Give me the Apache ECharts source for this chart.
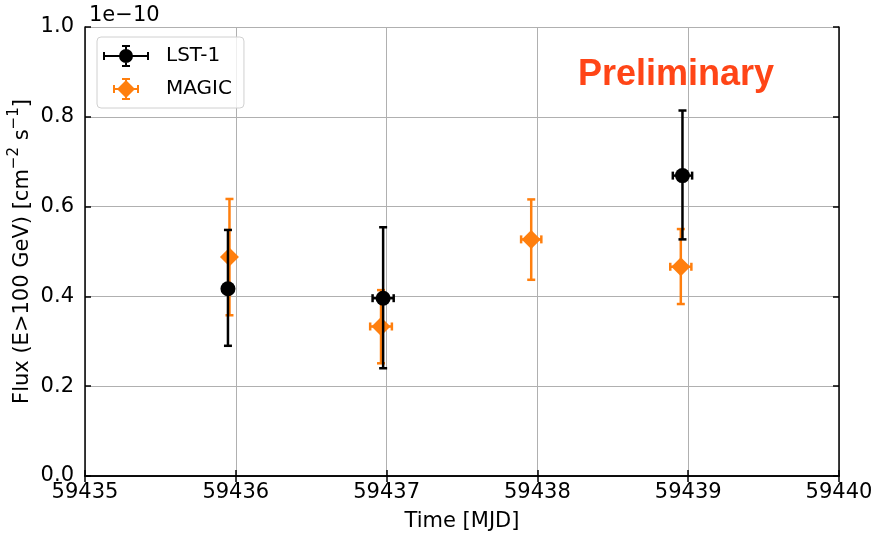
<!DOCTYPE html>
<html>
<head>
<meta charset="utf-8">
<script src="https://cdn.jsdelivr.net/npm/echarts@6/dist/echarts.min.js"></script>
<style>
  html, body { margin: 0; padding: 0; background: #fff; }
  #main { width: 875px; height: 539px; }
</style>
</head>
<body>
<div id="main"></div>
<script>
// flux values in units of 1e-10 cm^-2 s^-1
const lstX = [59435.948, 59436.977, 59438.962]
const lstY = [0.417, 0.396, 0.669]
const lstLo = [0.290, 0.240, 0.527]
const lstHi = [0.548, 0.554, 0.814]
const lstXErr = [0, 0.07, 0.064]

const magicX = [59435.958, 59436.963, 59437.959, 59438.951]
const magicY = [0.488, 0.333, 0.527, 0.466]
const magicLo = [0.358, 0.251, 0.437, 0.383]
const magicHi = [0.617, 0.414, 0.616, 0.550]
const magicXErr = [0, 0.072, 0.067, 0.07]

const xTicks = [59435, 59436, 59437, 59438, 59439, 59440]
const yTicks = [0.0, 0.2, 0.4, 0.6, 0.8, 1.0]

const FONT = 'DejaVu Sans'
const LST_COLOR = '#000000'
const MAGIC_COLOR = '#ff7f0e'

// legend icons: marker + errorbar
const lstIcon = 'path://M0 10h46v2h-46Z M0 7h2v8h-2Z M44 7h2v8h-2Z M22 0h2v22h-2Z M19 0h8v2h-8Z M19 20h8v2h-8Z M23 4A7 7 0 1 1 23 18A7 7 0 1 1 23 4Z'
const magicIcon = 'path://M13 2L22 11L13 20L4 11Z M12 0h2v22h-2Z M9 0h8v2h-8Z M9 20h8v2h-8Z M1 10h24v2h-24Z M0 7h2v8h-2Z M24 7h2v8h-2Z'

function rows (xs, ys, lo, hi, xe) {
  return xs.map((x, i) => [x, ys[i], lo[i], hi[i], xe[i]])
}

// 误差棒
function errRender (color, lw) {
  return function (params, api) {
    const x = api.value(0)
    const y = api.value(1)
    const lo = api.value(2)
    const hi = api.value(3)
    const xe = api.value(4)
    const pLo = api.coord([x, lo])
    const pHi = api.coord([x, hi])
    const style = { stroke: color, lineWidth: lw }
    const cap = 4
    const children = [
      { type: 'line', shape: { x1: pLo[0], y1: pLo[1], x2: pHi[0], y2: pHi[1] }, style },
      { type: 'line', shape: { x1: pLo[0] - cap, y1: pLo[1], x2: pLo[0] + cap, y2: pLo[1] }, style },
      { type: 'line', shape: { x1: pHi[0] - cap, y1: pHi[1], x2: pHi[0] + cap, y2: pHi[1] }, style }
    ]
    if (xe > 0) {
      const pL = api.coord([x - xe, y])
      const pR = api.coord([x + xe, y])
      children.push(
        { type: 'line', shape: { x1: pL[0], y1: pL[1], x2: pR[0], y2: pR[1] }, style },
        { type: 'line', shape: { x1: pL[0], y1: pL[1] - cap, x2: pL[0], y2: pL[1] + cap }, style },
        { type: 'line', shape: { x1: pR[0], y1: pR[1] - cap, x2: pR[0], y2: pR[1] + cap }, style }
      )
    }
    return { type: 'group', children }
  }
}

const axisLine = { show: true, lineStyle: { color: '#000', width: 1.5 } }
const axisTick = { show: true, inside: true, length: 6, lineStyle: { color: '#000', width: 1.5 } }
const splitLine = { show: true, lineStyle: { color: '#b0b0b0', width: 1 } }

const option = {
  animation: false,
  textStyle: { fontFamily: FONT },
  title: [{
    text: '1e\u221210',
    left: 84,
    top: 0,
    textStyle: { fontFamily: FONT, fontSize: 21, fontWeight: 'normal', color: '#000' }
  }, {
    text: 'Preliminary',
    left: 573,
    top: 52,
    textStyle: { fontFamily: 'Liberation Sans', fontSize: 36, fontWeight: 'bold', color: '#ff4517' }
  }],
  grid: { left: 85, right: 36, top: 27, bottom: 63, outerBoundsMode: 'none', containLabel: false },
  legend: {
    orient: 'vertical',
    left: 97,
    top: 37,
    padding: [8, 12, 8, 6],
    itemWidth: 46,
    itemHeight: 22,
    itemGap: 11,
    backgroundColor: 'rgba(255,255,255,0.8)',
    borderColor: '#d0d0d0',
    borderWidth: 1,
    borderRadius: 4,
    textStyle: { fontFamily: FONT, fontSize: 20, color: '#000', padding: [0, 0, 0, 12] },
    data: [
      { name: 'LST-1', icon: lstIcon },
      { name: 'MAGIC', icon: magicIcon }
    ]
  },
  xAxis: [{
    type: 'value',
    min: xTicks[0],
    max: xTicks[xTicks.length - 1],
    interval: 1,
    name: 'Time [MJD]',
    nameLocation: 'middle',
    nameGap: 35,
    nameMoveOverlap: false,
    nameTextStyle: { fontFamily: FONT, fontSize: 21, color: '#000' },
    axisLine,
    axisTick,
    splitLine,
    axisLabel: { fontFamily: FONT, fontSize: 21, color: '#000', margin: 6, formatter: v => String(Math.round(v)) }
  }, {
    type: 'value',
    position: 'top',
    min: xTicks[0],
    max: xTicks[xTicks.length - 1],
    interval: 1,
    axisLine,
    axisTick,
    splitLine: { show: false },
    axisLabel: { show: false }
  }],
  yAxis: [{
    type: 'value',
    min: yTicks[0],
    max: yTicks[yTicks.length - 1],
    interval: 0.2,
    name: '{n|Flux (E>100 GeV) [cm}{s|\u22122}{n| s}{s|\u22121}{n|]}',
    nameLocation: 'middle',
    nameGap: 52,
    nameMoveOverlap: false,
    nameTextStyle: {
      fontFamily: FONT,
      fontSize: 21,
      color: '#000',
      rich: {
        n: { fontFamily: FONT, fontSize: 21, color: '#000', lineHeight: 26, verticalAlign: 'bottom' },
        s: { fontFamily: FONT, fontSize: 15, color: '#000', lineHeight: 26, verticalAlign: 'top' }
      }
    },
    axisLine,
    axisTick,
    splitLine,
    axisLabel: { fontFamily: FONT, fontSize: 21, color: '#000', margin: 11, formatter: v => v.toFixed(1) }
  }, {
    type: 'value',
    position: 'right',
    min: yTicks[0],
    max: yTicks[yTicks.length - 1],
    interval: 0.2,
    axisLine,
    axisTick,
    splitLine: { show: false },
    axisLabel: { show: false }
  }],
  series: [{
    name: 'MAGIC err',
    type: 'custom',
    renderItem: errRender(MAGIC_COLOR, 2.5),
    encode: { x: 0, y: 1 },
    data: rows(magicX, magicY, magicLo, magicHi, magicXErr),
    z: 3
  }, {
    name: 'MAGIC',
    type: 'scatter',
    symbol: 'diamond',
    symbolSize: 19,
    itemStyle: { color: MAGIC_COLOR, opacity: 1 },
    data: magicX.map((x, i) => [x, magicY[i]]),
    z: 4
  }, {
    name: 'LST-1 err',
    type: 'custom',
    renderItem: errRender(LST_COLOR, 2.5),
    encode: { x: 0, y: 1 },
    data: rows(lstX, lstY, lstLo, lstHi, lstXErr),
    z: 5
  }, {
    name: 'LST-1',
    type: 'scatter',
    symbol: 'circle',
    symbolSize: 15,
    itemStyle: { color: LST_COLOR, opacity: 1 },
    data: lstX.map((x, i) => [x, lstY[i]]),
    z: 6
  }]
}

const chart = echarts.init(document.getElementById('main'))
chart.setOption(option, true)
</script>
</body>
</html>
